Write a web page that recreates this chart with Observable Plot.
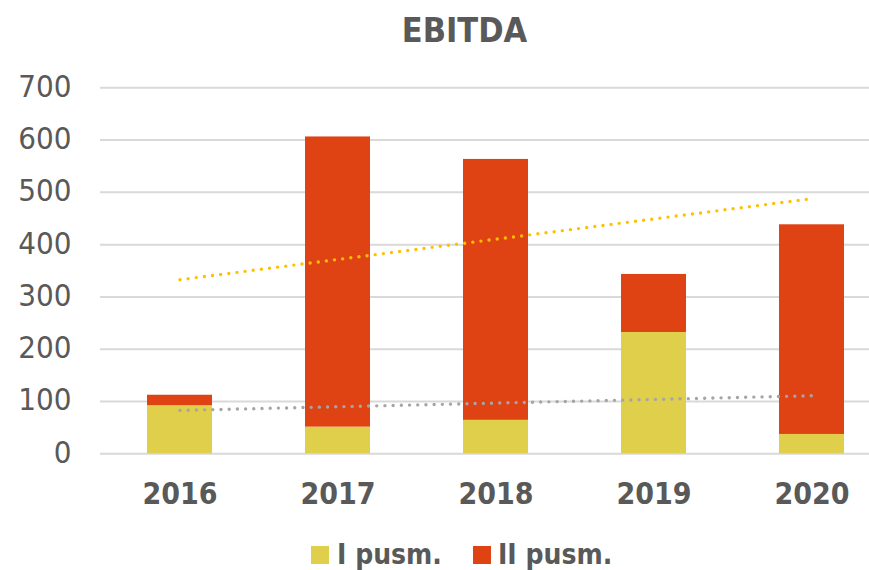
<!DOCTYPE html>
<html>
<head>
<meta charset="utf-8">
<script src="https://cdn.jsdelivr.net/npm/d3@7"></script>
<script src="https://cdn.jsdelivr.net/npm/@observablehq/plot@0.6"></script>
<style>
  html, body { margin: 0; padding: 0; background: #fff; overflow: hidden; }
  #wrap { position: relative; width: 869px; height: 570px; font-family: "DejaVu Sans Condensed", "DejaVu Sans", sans-serif; color: #595959; }
  #title { position: absolute; left: 0; width: 929px; text-align: center; top: 13px; font-size: 34px; line-height: 1; font-weight: bold; }
  #chart { position: absolute; left: 0; top: 0; }
  .lg { position: absolute; }
  .sw { width: 18px; height: 18px; top: 546px; }
  .lt { top: 541px; font-size: 28px; line-height: 1; font-weight: bold; white-space: nowrap; }
</style>
</head>
<body>
<div id="wrap">
  <div id="chart"></div>
  <div id="title">EBITDA</div>
  <div class="lg sw" style="left:311px;background:#E0CF4A"></div>
  <div class="lg lt" style="left:337px">I pusm.</div>
  <div class="lg sw" style="left:473px;background:#DF4313"></div>
  <div class="lg lt" style="left:498px">II pusm.</div>
</div>
<script>
const years = ["2016", "2017", "2018", "2019", "2020"];
const seriesNames = ["I pusm.", "II pusm."];
const firstHalf = [92, 51, 64, 232, 37];
const secondHalf = [20, 555, 499, 111, 401];
const seriesColors = ["#E0CF4A", "#DF4313"];
const yTicks = [0, 100, 200, 300, 400, 500, 600, 700];
const trendYears = ["2016", "2020"];
const trendTotal = [333, 488];
const trendFirst = [83, 111];

const bars = [];
years.forEach((y, i) => {
  bars.push({year: y, series: seriesNames[0], value: firstHalf[i]});
  bars.push({year: y, series: seriesNames[1], value: secondHalf[i]});
});
const tTotal = trendYears.map((y, i) => ({year: y, value: trendTotal[i]}));
const tFirst = trendYears.map((y, i) => ({year: y, value: trendFirst[i]}));

const chart = Plot.plot({
  width: 869,
  height: 520,
  marginLeft: 100,
  marginRight: 0,
  marginTop: 87.3,
  marginBottom: 520 - 453.3,
  style: {fontFamily: "DejaVu Sans Condensed, DejaVu Sans, sans-serif", color: "#595959", background: "transparent"},
  x: {type: "band", domain: years, range: [100, 891], paddingInner: 0.59, paddingOuter: 0.295, label: null},
  y: {domain: [0, 700], label: null},
  color: {domain: seriesNames, range: seriesColors},
  marks: [
    Plot.gridY(yTicks, {stroke: "#D9D9D9", strokeOpacity: 1, strokeWidth: 2}),
    Plot.barY(bars, {x: "year", y: "value", fill: "series", order: seriesNames}),
    Plot.line(tTotal, {x: "year", y: "value", stroke: "#FFC000", strokeWidth: 3.4, strokeDasharray: "0 8.2", strokeLinecap: "round"}),
    Plot.line(tFirst, {x: "year", y: "value", stroke: "#A5A5A5", strokeWidth: 3.4, strokeDasharray: "0 8.2", strokeLinecap: "round"}),
    Plot.axisY(yTicks, {tickSize: 0, tickPadding: 29, fontSize: 31, label: null, dy: -1}),
    Plot.axisX({tickSize: 0, tickPadding: 29, fontSize: 30, fontWeight: "bold", label: null})
  ]
});
document.getElementById("chart").appendChild(chart);
</script>
</body>
</html>
